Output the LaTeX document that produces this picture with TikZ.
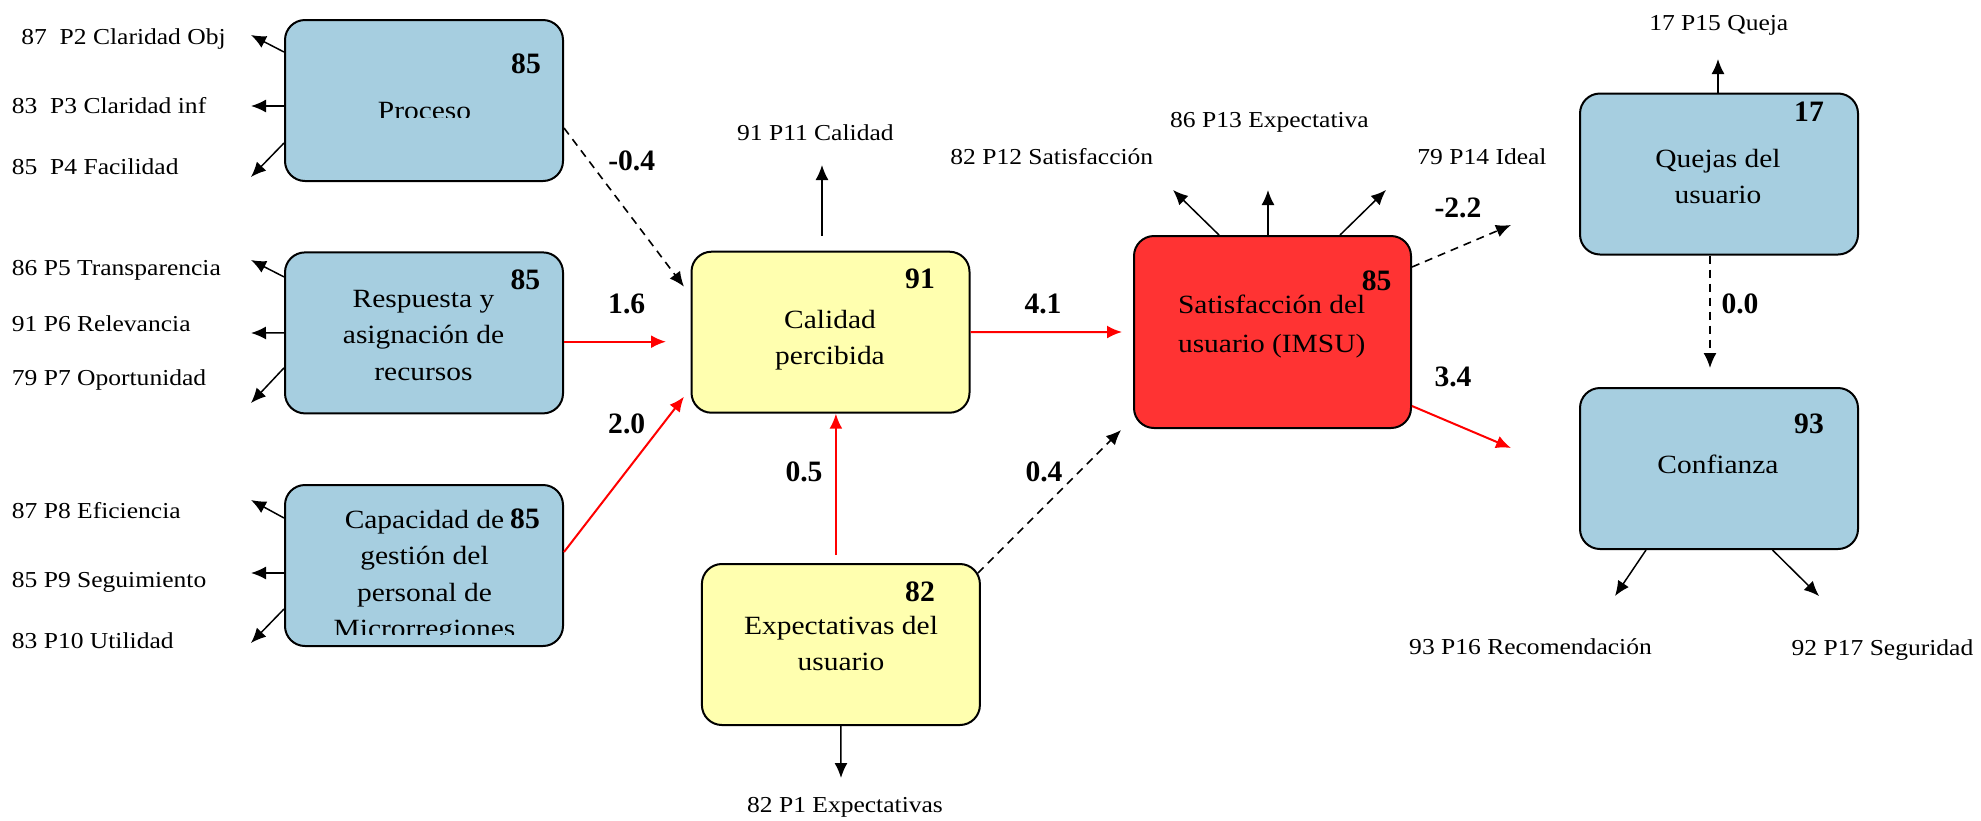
\documentclass[tikz,border=0pt]{standalone}
\usepackage{fontspec}
\setmainfont{Liberation Serif}[FakeStretch=1.12]
\newfontfamily\numfam{Liberation Serif}
\usetikzlibrary{arrows.meta,calc}
\definecolor{boxblue}{RGB}{166,206,224}
\definecolor{boxyellow}{RGB}{255,255,175}
\definecolor{boxred}{RGB}{255,51,51}
\definecolor{linered}{RGB}{255,0,0}
\newcommand{\lblfont}{\fontsize{11.4}{13.7}\selectfont}
\newcommand{\bxfont}{\fontsize{13.15}{18.25}\selectfont}
\newcommand{\nmfont}{\numfam\bfseries\fontsize{14.8}{17}\selectfont}
\begin{document}
\begin{tikzpicture}[x=0.5pt,y=-0.5pt,
  box/.style={draw=black, line width=1pt, rounded corners=10pt, minimum width=139pt, minimum height=80.5pt, inner sep=0pt},
  lbl/.style={font=\lblfont, inner sep=0pt, text height=7.6pt, text depth=0pt},
  btxt/.style={font=\bxfont, align=center, inner sep=0pt},
  num/.style={font=\nmfont, inner sep=0pt, anchor=base},
  blk/.style={draw=black, line width=0.75pt, -{Latex[length=7.5pt,width=6.5pt]}},
  rdarr/.style={draw=linered, line width=1pt, -{Latex[length=7.5pt,width=6.5pt]}},
  dsh/.style={draw=black, line width=0.8pt, dash pattern=on 4pt off 3pt, -{Latex[length=7.5pt,width=6.5pt]}}
]
\useasboundingbox (0,0) rectangle (1981,820);

% boxes
\node[box, fill=boxblue] (proc) at (424,100.5) {};
\node[box, fill=boxblue] (resp) at (424,332.9) {};
\node[box, fill=boxblue] (capa) at (424,565.5) {};
\node[box, fill=boxyellow] (cal) at (830.5,332.2) {};
\node[box, fill=boxyellow] (expe) at (840.9,644.5) {};
\node[box, fill=boxred, minimum width=138.5pt, minimum height=96pt] (sat) at (1272.5,332) {};
\node[box, fill=boxblue] (quej) at (1719,174) {};
\node[box, fill=boxblue] (conf) at (1719,468.5) {};

% box texts
\begin{scope}
  \clip (286,21) rectangle (562,117);
  \node[btxt, anchor=base] (proct) at (424.5,119.5) {Proceso};
\end{scope}
\node[btxt] (respt) at (423.5,335.1) {Respuesta y\\asignación de\\recursos};
\begin{scope}
  \clip (286,486) rectangle (562,634);
  \node[btxt] (capat) at (424.5,576.9) {Capacidad de\\gestión del\\personal de\\Microrregiones};
\end{scope}
\node[btxt] (calt) at (830,340.4) {Calidad\\percibida};
\node[btxt] (expet) at (841,643.3) {Expectativas del\\usuario};
\node[btxt, font=\fontsize{13.15}{19.2}\selectfont] (satt) at (1271.7,326.5) {Satisfacción del\\usuario (IMSU)};
\node[btxt] (quejt) at (1718,176.5) {Quejas del\\usuario};
\node[btxt, anchor=base] (conft) at (1718,473) {Confianza};

% box numbers
\node[num] (procn) at (526,73.3) {85};
\node[num] (respn) at (525.3,289.5) {85};
\node[num] (capan) at (525,528.3) {85};
\node[num] (caln) at (920,288.3) {91};
\node[num] (expen) at (920,601.7) {82};
\node[num] (satn) at (1376.7,290) {85};
\node[num] (quejn) at (1809,121.7) {17};
\node[num] (confn) at (1809,433.3) {93};

% indicator labels
\node[lbl, anchor=west] (l2) at (21,36.7) {87~~P2 Claridad Obj};
\node[lbl, anchor=west] (l3) at (11.5,105.8) {83~~P3 Claridad inf};
\node[lbl, anchor=west] (l4) at (11.5,166.7) {85~~P4 Facilidad};
\node[lbl, anchor=west] (l5) at (11.5,267.5) {86 P5 Transparencia};
\node[lbl, anchor=west] (l6) at (11.5,324.2) {91 P6 Relevancia};
\node[lbl, anchor=west] (l7) at (11.5,377.8) {79 P7 Oportunidad};
\node[lbl, anchor=west] (l8) at (11.5,511.3) {87 P8 Eficiencia};
\node[lbl, anchor=west] (l9) at (11.5,579.5) {85 P9 Seguimiento};
\node[lbl, anchor=west] (l10) at (11.5,641.2) {83 P10 Utilidad};
\node[lbl] (l11) at (815.4,133.3) {91 P11 Calidad};
\node[lbl] (l12) at (1051.8,157) {82 P12 Satisfacción};
\node[lbl] (l13) at (1269.5,119.5) {86 P13 Expectativa};
\node[lbl] (l14) at (1482,156.7) {79 P14 Ideal};
\node[lbl] (l15) at (1718.8,23.3) {17 P15 Queja};
\node[lbl] (l16) at (1530.5,646.7) {93 P16 Recomendación};
\node[lbl] (l17) at (1882.5,647.8) {92 P17 Seguridad};
\node[lbl] (l1) at (845,805) {82 P1 Expectativas};

% coefficient labels
\node[num] (cm04) at (631.7,170) {-0.4};
\node[num] (c16) at (626.7,313.3) {1.6};
\node[num] (c20) at (626.7,433.3) {2.0};
\node[num] (c05) at (804,481.7) {0.5};
\node[num] (c41) at (1043,313.3) {4.1};
\node[num] (c04) at (1044,481) {0.4};
\node[num] (cm22) at (1458,217.3) {-2.2};
\node[num] (c34) at (1453,386) {3.4};
\node[num] (c00) at (1740,313.3) {0.0};

% free arrow ends
\coordinate (t2) at (251,35);
\coordinate (t3) at (251,106);
\coordinate (t4) at (251,177);
\coordinate (t5) at (251,260);
\coordinate (t6) at (251,333);
\coordinate (t7) at (251,403);
\coordinate (t8) at (251,500);
\coordinate (t9) at (251,573);
\coordinate (t10) at (251,643);
\coordinate (t11) at (822,165);
\coordinate (t1) at (841,778);
\coordinate (t12) at (1173,190);
\coordinate (t13) at (1268,190);
\coordinate (t14) at (1386,190);
\coordinate (t15) at (1718,59);
\coordinate (t16) at (1615,596);
\coordinate (t17) at (1819,596);
\coordinate (tm22) at (1511,225);
\coordinate (t34) at (1511,448);
\coordinate (t00) at (1710,368);

% indicator arrows
\draw[blk] ($(proc.west)+(0,-48.5)$) -- (t2);
\draw[blk] ($(proc.west)+(0,5.5)$) -- (t3);
\draw[blk] ($(proc.west)+(0,42.5)$) -- (t4);
\draw[blk] ($(resp.west)+(0,-56)$) -- (t5);
\draw[blk] (resp.west) -- (t6);
\draw[blk] ($(resp.west)+(0,35)$) -- (t7);
\draw[blk] ($(capa.west)+(0,-47.5)$) -- (t8);
\draw[blk] ($(capa.west)+(0,7.5)$) -- (t9);
\draw[blk] ($(capa.west)+(0,43.5)$) -- (t10);
\draw[blk] ($(cal.north)+(-8.5,-15)$) -- (t11);
\draw[blk] (expe.south) -- (t1);
\draw[blk] ($(sat.north)+(-53.5,0)$) -- (t12);
\draw[blk] ($(sat.north)+(-4.5,0)$) -- (t13);
\draw[blk] ($(sat.north)+(67.5,0)$) -- (t14);
\draw[blk] ($(quej.north)+(-1,0)$) -- (t15);
\draw[blk] ($(conf.south)+(-73,0)$) -- (t16);
\draw[blk] ($(conf.south)+(53.5,0)$) -- (t17);

% structural paths
\draw[dsh] ($(proc.east)+(0,27.5)$) -- ($(cal.west)+(-6.5,-45.5)$);
\draw[rdarr] ($(resp.east)+(0,8.8)$) -- ($(cal.west)+(-24.5,9.5)$);
\draw[rdarr] ($(capa.east)+(0,-13.5)$) -- ($(cal.west)+(-6.5,64.5)$);
\draw[rdarr] ($(expe.north)+(-5,-8)$) -- ($(cal.south)+(5.4,0)$);
\draw[rdarr] (cal.east) -- ($(sat.west)+(-11,0)$);
\draw[dsh] ($(expe.north east)+(-3,10)$) -- ($(sat.south west)+(-12,1)$);
\draw[dsh] ($(sat.east)+(0,-65)$) -- (tm22);
\draw[rdarr] ($(sat.east)+(0,74)$) -- (t34);
\draw[dsh] ($(quej.south)+(-9,0)$) -- (t00);
\end{tikzpicture}
\end{document}
